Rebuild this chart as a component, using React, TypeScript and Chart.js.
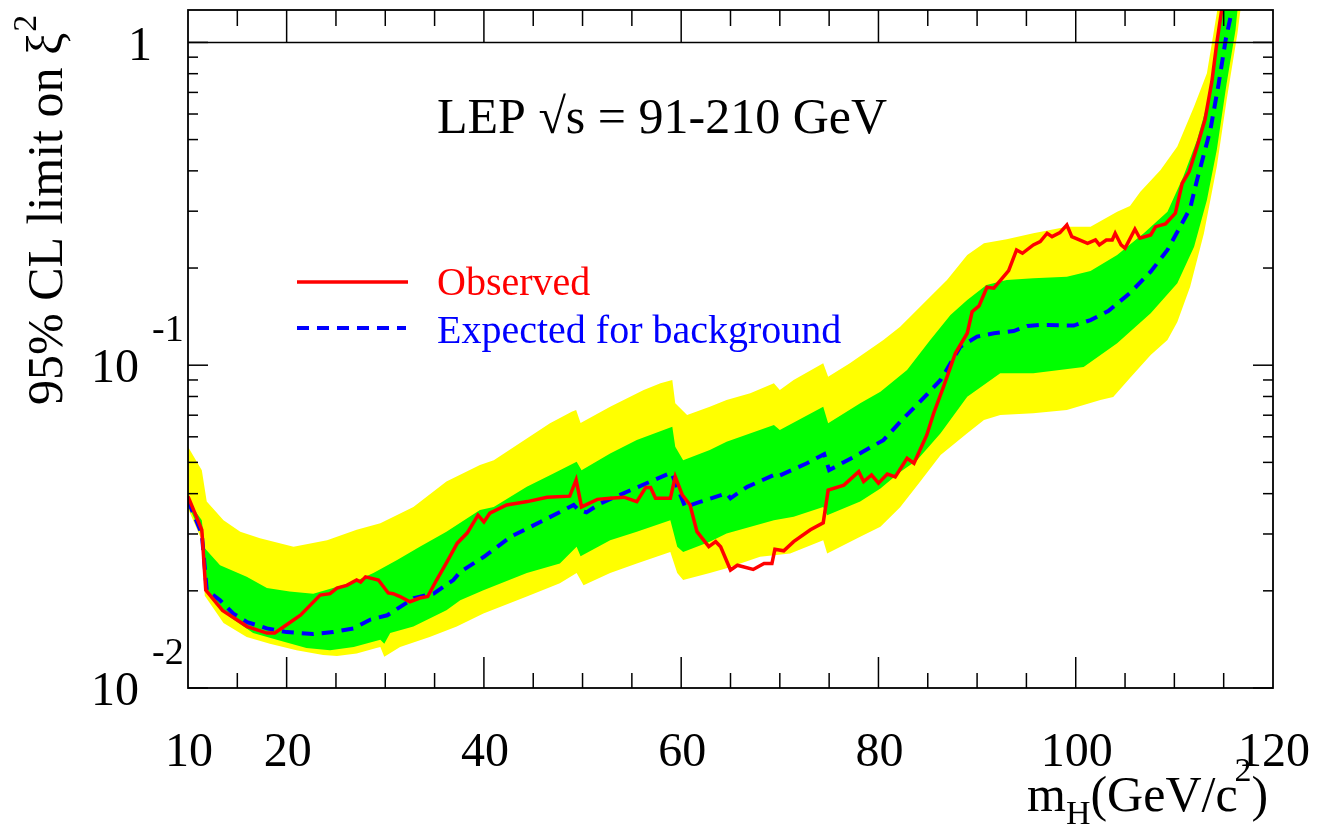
import React, { useEffect, useRef } from 'react';
import { Chart, registerables } from 'chart.js';

Chart.register(...registerables);

// ---- Data (m_H in GeV/c^2, 95% CL limit on xi^2) ----
const observed: [number, number][] = [
  [10.0, 0.0392], [11.4, 0.0309], [11.8, 0.0201], [13.5, 0.0174], [16.0, 0.0155], [18.0, 0.0148],
  [18.8, 0.0148], [20.0, 0.0157], [21.4, 0.0168], [23.4, 0.0194], [24.4, 0.0196], [25.1, 0.0204],
  [26.1, 0.0208], [27.1, 0.0216], [27.5, 0.0213], [28.0, 0.0221], [29.3, 0.0216], [30.3, 0.0197],
  [30.8, 0.0196], [31.5, 0.0192], [32.5, 0.0185], [33.5, 0.0190], [34.3, 0.0192], [35.2, 0.0216],
  [36.2, 0.0244], [37.3, 0.0281], [38.3, 0.0302], [39.4, 0.0343], [40.0, 0.0327], [40.6, 0.0348],
  [42.3, 0.0369], [44.4, 0.0378], [46.4, 0.0390], [48.7, 0.0393], [49.35, 0.0441], [49.9, 0.0364],
  [51.5, 0.0384], [52.8, 0.0387], [54.2, 0.0390], [55.5, 0.0378], [56.4, 0.0418], [56.9, 0.0418],
  [57.4, 0.0387], [58.9, 0.0387], [59.4, 0.0451], [60.1, 0.0397], [60.9, 0.0369], [61.6, 0.0305],
  [62.8, 0.0274], [63.5, 0.0284], [64.0, 0.0274], [65.0, 0.0232], [65.7, 0.0240], [67.3, 0.0233],
  [68.4, 0.0243], [69.2, 0.0243], [69.5, 0.0269], [70.4, 0.0266], [71.4, 0.0284], [73.1, 0.0309],
  [74.4, 0.0325], [74.9, 0.0410], [76.5, 0.0425], [78.0, 0.0468], [78.5, 0.0436], [79.3, 0.0457],
  [80.0, 0.0431], [80.9, 0.0460], [81.7, 0.0451], [82.9, 0.0515], [83.6, 0.0497], [84.9, 0.0608],
  [85.6, 0.0710], [86.6, 0.0858], [87.8, 0.1089], [89.0, 0.1256], [89.5, 0.1465], [90.2, 0.1526],
  [91.0, 0.1744], [91.7, 0.1732], [93.2, 0.1963], [94.0, 0.2275], [94.6, 0.2222], [95.7, 0.2358],
  [96.4, 0.2414], [97.1, 0.2563], [97.6, 0.2502], [98.4, 0.2574], [99.1, 0.2719], [99.6, 0.2502],
  [101.2, 0.2386], [102.0, 0.2443], [102.4, 0.2358], [103.1, 0.2443], [103.7, 0.2443], [104.0, 0.2563],
  [104.6, 0.2358], [105.0, 0.2303], [106.0, 0.2638], [106.5, 0.2473], [107.6, 0.2532], [108.1, 0.2687],
  [109.1, 0.2739], [110.1, 0.2956], [110.8, 0.3662], [111.5, 0.3978], [112.3, 0.4755], [113.1, 0.5752],
  [113.8, 0.7559], [114.3, 0.9943], [114.8, 1.261], [115.2, 1.6],
];

const expected: [number, number][] = [
  [10.0, 0.038], [11.4, 0.030], [11.9, 0.0201], [13.25, 0.0187], [14.6, 0.0170], [16.0, 0.0160],
  [18.0, 0.0153], [20.0, 0.0149], [21.4, 0.0148], [22.7, 0.0147], [24.7, 0.0149], [26.8, 0.0153],
  [28.5, 0.0163], [30.2, 0.0168], [32.9, 0.0190], [34.9, 0.0196], [36.9, 0.0216], [37.6, 0.0229],
  [40.0, 0.0255], [42.7, 0.0294], [46.4, 0.0335], [49.1, 0.0369], [49.6, 0.0356], [50.4, 0.0350],
  [51.8, 0.0373], [55.5, 0.0418], [59.0, 0.0465], [60.4, 0.0364], [61.9, 0.0377], [64.6, 0.0401],
  [65.0, 0.0387], [66.7, 0.0420], [69.4, 0.0457], [69.7, 0.0451], [72.75, 0.0497], [74.5, 0.0530],
  [75.0, 0.0473], [77.6, 0.0522], [80.5, 0.0586], [82.55, 0.0685], [83.9, 0.0753], [86.3, 0.0900],
  [88.3, 0.1141], [90.0, 0.1226], [91.7, 0.1256], [93.7, 0.1276], [95.1, 0.1323], [96.4, 0.1332],
  [99.8, 0.1327], [101.5, 0.1380], [103.3, 0.1472], [105.5, 0.1674], [107.6, 0.1949], [109.3, 0.2275],
  [110.6, 0.2687], [111.6, 0.3063], [112.3, 0.3750], [113.65, 0.5356], [114.5, 0.7472], [115.2, 1.018],
  [115.85, 1.261], [116.2, 1.5],
];

const greenUpper: [number, number][] = [
  [10.0, 0.038], [11.4, 0.0331], [11.7, 0.0271], [13.25, 0.0240], [15.95, 0.0221], [18.0, 0.0204],
  [20.3, 0.0199], [22.7, 0.0196], [24.7, 0.0204], [26.8, 0.0213], [28.8, 0.0227], [31.2, 0.0249],
  [33.5, 0.0274], [36.2, 0.0305], [39.6, 0.0356], [41.0, 0.0364], [44.35, 0.0420], [47.05, 0.0462],
  [49.4, 0.0502], [49.9, 0.0473], [52.8, 0.0533], [55.5, 0.0586], [59.1, 0.0645], [59.4, 0.0559],
  [60.2, 0.0508], [62.9, 0.0546], [64.6, 0.0579], [69.4, 0.0653], [70.0, 0.0630], [74.4, 0.0744],
  [74.9, 0.0661], [78.15, 0.0762], [80.2, 0.0828], [82.9, 0.0966], [85.25, 0.1197], [87.3, 0.1431],
  [89.0, 0.1592], [90.95, 0.1772], [93.0, 0.1837], [95.7, 0.1859], [99.1, 0.1880], [101.5, 0.1958],
  [104.2, 0.2195], [106.9, 0.2563], [109.3, 0.2989], [110.9, 0.3838], [112.3, 0.4985], [113.65, 0.6960],
  [114.5, 1.068], [114.85, 1.261], [115.3, 1.6],
];

const greenLower: [number, number][] = [
  [10.0, 0.037], [11.4, 0.0298], [11.7, 0.0201], [14.26, 0.0166], [16.6, 0.0148], [19.0, 0.0141],
  [22.0, 0.0133], [24.4, 0.0131], [26.8, 0.0134], [29.5, 0.0141], [29.9, 0.0137], [30.5, 0.0148],
  [32.85, 0.0155], [36.2, 0.0174], [37.6, 0.0187], [39.95, 0.0201], [44.35, 0.0227], [47.7, 0.0243],
  [49.4, 0.0274], [49.8, 0.0256], [52.8, 0.0287], [55.5, 0.0305], [58.9, 0.0331], [59.6, 0.0274],
  [60.2, 0.0264], [62.9, 0.0284], [64.6, 0.0301], [69.4, 0.0331], [71.4, 0.0339], [74.4, 0.0364],
  [74.8, 0.0343], [78.15, 0.0378], [80.2, 0.0415], [82.2, 0.0467], [83.9, 0.0508], [86.3, 0.0615],
  [89.0, 0.0799], [92.35, 0.0944], [95.7, 0.0944], [100.8, 0.0987], [104.2, 0.1169], [107.6, 0.1448],
  [110.3, 0.1794], [112.0, 0.2329], [113.3, 0.3250], [114.3, 0.4644], [115.3, 0.7472], [116.2, 1.093],
  [116.4, 1.261], [116.7, 1.6],
];

const yellowUpper: [number, number][] = [
  [10.0, 0.0559], [11.4, 0.0473], [11.9, 0.0378], [13.6, 0.0331], [15.3, 0.0305], [17.3, 0.0291],
  [20.7, 0.0274], [24.1, 0.0287], [27.1, 0.0309], [29.5, 0.0324], [32.85, 0.0364], [36.2, 0.0436],
  [39.6, 0.0491], [41.0, 0.0508], [44.35, 0.0593], [46.7, 0.0661], [48.9, 0.0718], [49.35, 0.0727],
  [49.8, 0.0662], [52.8, 0.0744], [56.2, 0.0838], [57.9, 0.0879], [59.1, 0.0900], [59.4, 0.0762],
  [60.6, 0.0701], [62.9, 0.0744], [64.6, 0.0780], [67.0, 0.0818], [69.4, 0.0879], [70.0, 0.0838],
  [71.4, 0.0900], [74.4, 0.1014], [74.9, 0.0921], [77.1, 0.1014], [80.5, 0.1197], [82.2, 0.1316],
  [83.9, 0.1483], [85.6, 0.1670], [86.95, 0.1837], [89.0, 0.2195], [90.7, 0.2385], [93.0, 0.2455],
  [95.7, 0.2563], [99.1, 0.2687], [101.5, 0.2687], [104.2, 0.2989], [105.5, 0.3113], [106.55, 0.3448],
  [108.6, 0.4027], [110.3, 0.4755], [112.0, 0.6326], [113.3, 0.8027], [114.3, 1.232], [114.9, 1.7],
];

const yellowLower: [number, number][] = [
  [10.0, 0.036], [11.4, 0.0287], [11.7, 0.0193], [13.6, 0.0159], [15.95, 0.0144], [18.3, 0.0137],
  [21.0, 0.0131], [23.7, 0.01265], [25.1, 0.01256], [27.1, 0.0128], [29.1, 0.0133], [29.5, 0.0134],
  [29.9, 0.0125], [31.5, 0.0134], [34.5, 0.0144], [37.25, 0.0155], [39.95, 0.0170], [44.35, 0.0192],
  [47.7, 0.0211], [49.4, 0.0227], [50.1, 0.0208], [52.8, 0.0227], [55.5, 0.0243], [58.9, 0.0264],
  [59.6, 0.0227], [60.2, 0.0216], [62.9, 0.0227], [64.6, 0.0235], [68.0, 0.0255], [71.05, 0.0261],
  [74.4, 0.0287], [74.8, 0.0261], [78.15, 0.0294], [80.2, 0.0316], [82.2, 0.0363], [84.2, 0.0435],
  [86.3, 0.0527], [89.0, 0.0615], [90.7, 0.0676], [92.35, 0.0701], [95.7, 0.0710], [99.1, 0.0727],
  [102.5, 0.0780], [103.8, 0.0797], [105.5, 0.0913], [107.6, 0.1075], [109.3, 0.1197], [110.3, 0.1361],
  [111.6, 0.1751], [113.0, 0.2563], [114.3, 0.4122], [115.3, 0.6634], [116.4, 1.068], [116.7, 1.261],
  [117.0, 1.6],
];

// ---- Axes / labels ----
const xMin = 10;
const xMax = 120;
const yMin = 0.01;
const yMax = 1.26;
const xTickLabels = [10, 20, 40, 60, 80, 100, 120];
const xMajorTicks = [20, 40, 60, 80, 100];
const xMinorTicks = [15, 25, 30, 35, 45, 50, 55, 65, 70, 75, 85, 90, 95, 105, 110, 115];
const yDecadeExponents = [-2, -1, 0];
const referenceLineValue = 1;

const titleText = 'LEP \u221As = 91-210 GeV';
const legendObserved = 'Observed';
const legendExpected = 'Expected for background';
const yTitleMain = '95% CL limit on \u03BE';

const SERIF = '"Liberation Serif", "Times New Roman", "DejaVu Serif", serif';

const toXY = (arr: [number, number][]) => arr.map(([x, y]) => ({ x, y }));
const band = (upper: [number, number][], lower: [number, number][]) =>
  toXY(upper.concat(lower.slice().reverse()));

const rootStyle = {
  id: 'rootStyle',
  afterDatasetsDraw(chart: any) {
    const { ctx, chartArea: a, scales } = chart;
    const xs = scales.x;
    const ys = scales.y;
    ctx.save();
    ctx.strokeStyle = '#000';
    ctx.lineWidth = 1.5;
    const seg = (x1: number, y1: number, x2: number, y2: number) => {
      ctx.beginPath();
      ctx.moveTo(x1, y1);
      ctx.lineTo(x2, y2);
      ctx.stroke();
    };
    // horizontal reference line at 1
    const yRef = ys.getPixelForValue(referenceLineValue);
    seg(a.left, yRef, a.right, yRef);

    // x ticks (bottom and top)
    for (const v of xMinorTicks) {
      const px = xs.getPixelForValue(v);
      seg(px, a.bottom, px, a.bottom - 15);
      seg(px, a.top, px, a.top + 16);
    }
    for (const v of xMajorTicks) {
      const px = xs.getPixelForValue(v);
      seg(px, a.bottom, px, a.bottom - 31);
      seg(px, a.top, px, a.top + 32);
    }
    // y ticks (left and right)
    for (const e of yDecadeExponents) {
      for (let k = 1; k <= 9; k++) {
        const v = k * Math.pow(10, e);
        if (v < yMin - 1e-12 || v > yMax) continue;
        const py = ys.getPixelForValue(v);
        const len = k === 1 ? 20 : 10;
        seg(a.left, py, a.left + len, py);
        seg(a.right, py, a.right - len, py);
      }
    }
    // frame
    ctx.lineWidth = 1.8;
    ctx.strokeRect(a.left, a.top, a.right - a.left, a.bottom - a.top);
    ctx.restore();
  },
  afterDraw(chart: any) {
    const { ctx, scales } = chart;
    const xs = scales.x;
    const ys = scales.y;
    ctx.save();
    ctx.fillStyle = '#000';
    ctx.textBaseline = 'alphabetic';

    // x tick labels
    ctx.font = `48px ${SERIF}`;
    ctx.textAlign = 'center';
    for (const v of xTickLabels) {
      ctx.fillText(String(v), xs.getPixelForValue(v) + 1, 766);
    }

    // y tick labels
    for (const e of yDecadeExponents) {
      const py = ys.getPixelForValue(Math.pow(10, e));
      if (e === 0) {
        ctx.font = `48px ${SERIF}`;
        ctx.textAlign = 'right';
        ctx.fillText('1', 152, py + 18);
      } else {
        ctx.font = `48px ${SERIF}`;
        ctx.textAlign = 'right';
        ctx.fillText('10', 139, py + 17);
        ctx.font = `38px ${SERIF}`;
        ctx.textAlign = 'left';
        ctx.fillText(String(e), 152, py - 24);
      }
    }

    // x axis title: m_H(GeV/c^2)
    ctx.textAlign = 'left';
    let x = 1027;
    const base = 811;
    ctx.font = `50px ${SERIF}`;
    ctx.fillText('m', x, base);
    x += ctx.measureText('m').width;
    ctx.font = `34px ${SERIF}`;
    ctx.fillText('H', x, base + 13);
    x += ctx.measureText('H').width;
    ctx.font = `50px ${SERIF}`;
    ctx.fillText('(GeV/c', x, base);
    x += ctx.measureText('(GeV/c').width;
    ctx.font = `34px ${SERIF}`;
    ctx.fillText('2', x - 3, base - 30);
    x += ctx.measureText('2').width - 3;
    ctx.font = `50px ${SERIF}`;
    ctx.fillText(')', x, base);

    // y axis title (rotated)
    ctx.save();
    ctx.translate(62, 405);
    ctx.rotate(-Math.PI / 2);
    ctx.font = `50px ${SERIF}`;
    ctx.textAlign = 'left';
    ctx.fillText(yTitleMain, 0, 0);
    const w = ctx.measureText(yTitleMain).width;
    ctx.font = `34px ${SERIF}`;
    ctx.fillText('2', w + 1, -26);
    ctx.restore();

    // title
    ctx.font = `50px ${SERIF}`;
    ctx.textAlign = 'left';
    ctx.fillText(titleText, 437, 133);

    // legend
    ctx.lineWidth = 3.5;
    ctx.strokeStyle = '#ff0000';
    ctx.beginPath();
    ctx.moveTo(297, 282);
    ctx.lineTo(408, 282);
    ctx.stroke();
    ctx.strokeStyle = '#0000ff';
    ctx.lineWidth = 4;
    ctx.setLineDash([12, 8]);
    ctx.beginPath();
    ctx.moveTo(297, 328);
    ctx.lineTo(406, 328);
    ctx.stroke();
    ctx.setLineDash([]);
    ctx.font = `40px ${SERIF}`;
    ctx.fillStyle = '#ff0000';
    ctx.fillText(legendObserved, 437, 295);
    ctx.fillStyle = '#0000ff';
    ctx.fillText(legendExpected, 437, 343);
    ctx.restore();
  },
};

export default function App() {
  const canvasRef = useRef<HTMLCanvasElement | null>(null);

  useEffect(() => {
    if (!canvasRef.current) return;
    const chart = new Chart(canvasRef.current, {
      type: 'line',
      data: {
        datasets: [
          {
            label: 'Observed',
            data: toXY(observed),
            borderColor: '#ff0000',
            borderWidth: 3.5,
            pointRadius: 0,
            fill: false,
            tension: 0,
            order: 0,
            clip: 0,
          },
          {
            label: 'Expected for background',
            data: toXY(expected),
            borderColor: '#0000ff',
            borderWidth: 4,
            borderDash: [12, 8],
            pointRadius: 0,
            fill: false,
            tension: 0,
            order: 1,
            clip: 0,
          },
          {
            label: '\u00B11\u03C3',
            data: band(greenUpper, greenLower),
            borderColor: 'rgba(0,0,0,0)',
            borderWidth: 0,
            backgroundColor: '#00ff00',
            pointRadius: 0,
            fill: 'shape',
            tension: 0,
            order: 2,
            clip: 0,
          },
          {
            label: '\u00B12\u03C3',
            data: band(yellowUpper, yellowLower),
            borderColor: 'rgba(0,0,0,0)',
            borderWidth: 0,
            backgroundColor: '#ffff00',
            pointRadius: 0,
            fill: 'shape',
            tension: 0,
            order: 3,
            clip: 0,
          },
        ] as any,
      },
      options: {
        responsive: false,
        maintainAspectRatio: false,
        devicePixelRatio: 1,
        animation: false,
        events: [],
        layout: { padding: { left: 188, right: 52, top: 10, bottom: 139 } },
        plugins: { legend: { display: false }, tooltip: { enabled: false } },
        scales: {
          x: { type: 'linear', min: xMin, max: xMax, bounds: 'data', display: false },
          y: { type: 'logarithmic', min: yMin, max: yMax, display: false },
        },
      } as any,
      plugins: [rootStyle],
    });
    return () => chart.destroy();
  }, []);

  return (
    <div style={{ position: 'fixed', left: 0, top: 0, width: 1325, height: 827, background: '#fff' }}>
      <canvas ref={canvasRef} width={1325} height={827} style={{ display: 'block' }} />
    </div>
  );
}
